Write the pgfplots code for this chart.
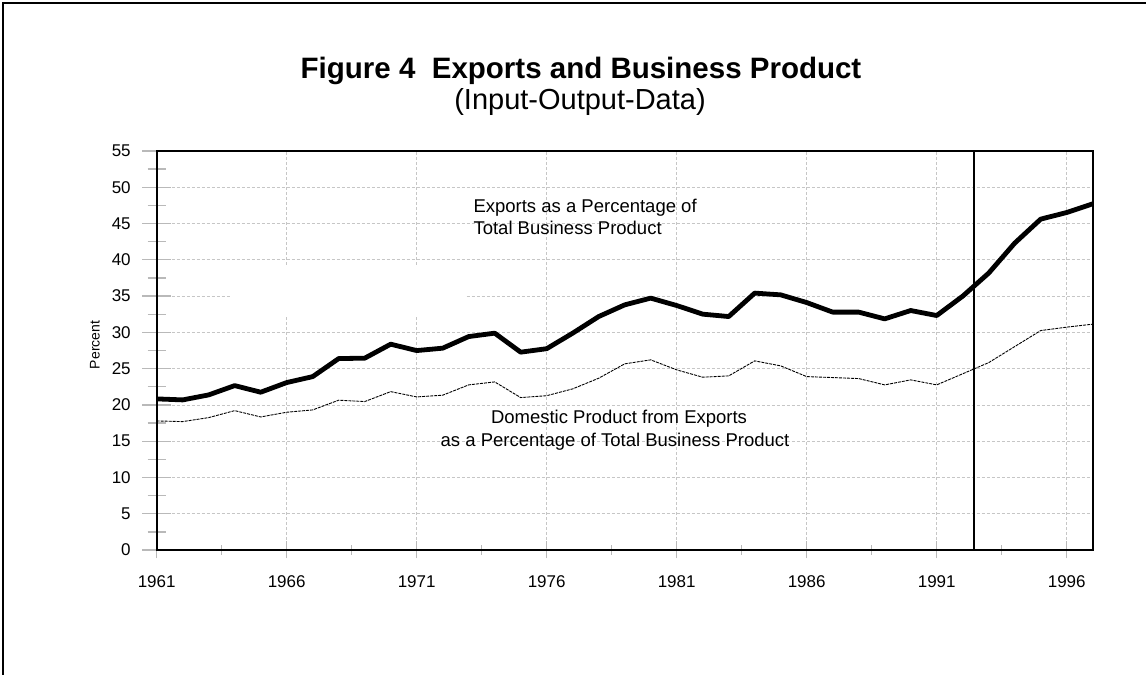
\documentclass[border=0pt]{standalone}
\usepackage{pgfplots}
\pgfplotsset{compat=1.18}
\usepackage{fontspec}
\setmainfont{Liberation Sans}

\pgfplotstableread{
year thick thin
1961 20.83 17.79
1962 20.69 17.70
1963 21.38 18.25
1964 22.66 19.21
1965 21.75 18.34
1966 23.08 18.99
1967 23.90 19.31
1968 26.39 20.65
1969 26.44 20.46
1970 28.37 21.83
1971 27.49 21.10
1972 27.82 21.34
1973 29.42 22.76
1974 29.89 23.17
1975 27.27 21.01
1976 27.75 21.27
1977 29.89 22.21
1978 32.18 23.68
1979 33.79 25.66
1980 34.72 26.21
1981 33.70 24.83
1982 32.51 23.82
1983 32.18 24.00
1984 35.41 26.07
1985 35.17 25.38
1986 34.11 23.90
1987 32.79 23.77
1988 32.79 23.63
1989 31.86 22.76
1990 33.01 23.45
1991 32.32 22.76
1992 34.99 24.29
1993 38.17 25.83
1994 42.30 28.04
1995 45.61 30.25
1996 46.52 30.72
1997 47.72 31.13
}\datatable

\begin{document}
\begin{tikzpicture}
\path[use as bounding box] (0,0) rectangle (1146bp,675bp);
\draw[line width=2bp] (3bp,0) -- (3bp,672bp) -- (1146bp,672bp);

\node[anchor=base, font=\bfseries\fontsize{29.5bp}{33bp}\selectfont] at (581bp,596bp) {Figure 4\ \ Exports and Business Product};
\node[anchor=base, font=\fontsize{29bp}{33bp}\selectfont] at (580bp,565bp) {(Input-Output-Data)};

\begin{axis}[
  at={(156.7bp,125bp)}, anchor=south west,
  scale only axis, width=936bp, height=399bp,
  xmin=1961, xmax=1997, ymin=0, ymax=55,
  xtick={1961,1966,...,1996},
  ytick={0,5,...,55},
  minor x tick num=1, minor y tick num=1,
  xtick pos=bottom, ytick pos=left,
  tick align=center,
  /pgf/number format/assume math mode=true,
  /pgf/number format/1000 sep={},
  x tick label style={font=\fontsize{17bp}{20bp}\selectfont, yshift=-8bp},
  y tick label style={font=\fontsize{17bp}{20bp}\selectfont, xshift=-8bp},
  major tick length=29bp, minor tick length=18bp,
  x tick style={/pgfplots/major tick length=17bp, /pgfplots/minor tick length=10bp},
  every tick/.style={gray!55, line width=1.3bp},
  grid=major,
  major grid style={gray!45, line width=0.8bp, dash pattern=on 3bp off 2bp},
  axis line style={black, line width=1.8bp},
  clip=true,
]
\fill[white] (axis cs:1963.85,32.18) rectangle (axis cs:1972.9,39.08);
\addplot[black, line width=0.9bp, dash pattern=on 3bp off 1bp] table[x=year, y=thin] {\datatable};
\addplot[black, line width=4.8bp, line join=round] table[x=year, y=thick] {\datatable};
\addplot[black, line width=1.8bp] coordinates {(1992.42,0) (1992.42,55)};
\end{axis}

\node[rotate=90, font=\fontsize{14bp}{16bp}\selectfont] at (95bp,330bp) {Percent};

\node[anchor=base west, font=\fontsize{18.5bp}{21bp}\selectfont] at (470bp,462bp) {Exports as a Percentage of};
\node[anchor=base west, font=\fontsize{18.5bp}{21bp}\selectfont] at (470bp,440.5bp) {Total Business Product};
\node[anchor=base, font=\fontsize{18.5bp}{21bp}\selectfont] at (619bp,251bp) {Domestic Product from Exports};
\node[anchor=base, font=\fontsize{18.5bp}{21bp}\selectfont] at (615bp,228.3bp) {as a Percentage of Total Business Product};
\end{tikzpicture}
\end{document}
